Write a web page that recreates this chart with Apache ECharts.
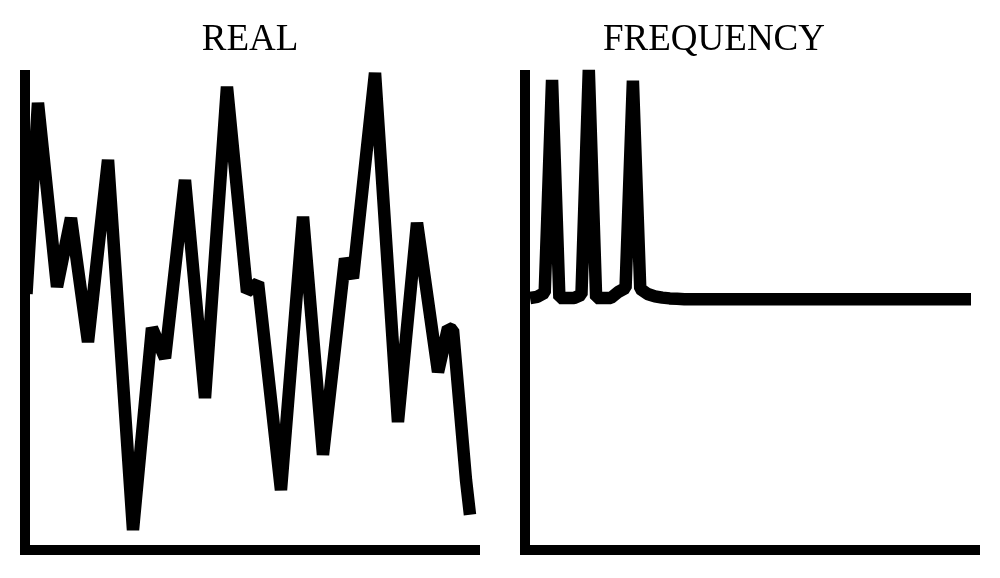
<!DOCTYPE html>
<html lang="en">
<head>
	<meta charset="UTF-8">
	<title>REAL / FREQUENCY</title>
	<style>
		html, body { margin: 0; padding: 0; background: #fff; }
		#chart { width: 1000px; height: 578px; }
	</style>
</head>
<body>
	<div id="chart"></div>
<script src="https://cdn.jsdelivr.net/npm/echarts@6/dist/echarts.min.js"></script>
<script>
	// signal in time (sample position, amplitude)
	var realT = [0.2, 1.73, 4.27, 6.13, 8.4, 11.07, 14.4, 16.93, 18.67, 21.33, 24.0, 26.93, 29.6, 31.07,
		34.13, 37.07, 39.73, 42.67, 43.73, 46.67, 49.73, 52.27, 55.07, 56.4, 57.07, 58.8, 59.33];
	var realA = [6.4, 11.18, 6.58, 8.3, 5.2, 9.75, 0.5, 5.55, 4.8, 9.25, 3.8, 11.58, 6.45, 6.68,
		1.5, 8.33, 2.38, 7.28, 6.8, 11.93, 3.2, 8.18, 4.45, 5.55, 5.5, 1.75, 0.88];

	// spectrum magnitude, one value per bin
	var freqMag = [6.3, 6.33, 6.43, 11.75, 6.3, 6.3, 6.3, 6.38, 12.0, 6.3,
		6.3, 6.3, 6.45, 6.55, 11.73, 6.53, 6.4, 6.34, 6.31, 6.29,
		6.28, 6.27, 6.27, 6.27, 6.27, 6.27, 6.27, 6.27, 6.27, 6.27,
		6.27, 6.27, 6.27, 6.27, 6.27, 6.27, 6.27, 6.27, 6.27, 6.27,
		6.27, 6.27, 6.27, 6.27, 6.27, 6.27, 6.27, 6.27, 6.27, 6.27,
		6.27, 6.27, 6.27, 6.27, 6.27, 6.27, 6.27, 6.27, 6.27, 6.27, 6.27];

	var titles = ['REAL', 'FREQUENCY'];

	var realData = [];
	for (var i = 0; i < realT.length; i++) realData.push([realT[i], realA[i]]);
	var freqData = [];
	for (var j = 0; j < freqMag.length; j++) freqData.push([j, freqMag[j]]);

	function xAx(idx, min, max) {
		return {
			type: 'value', gridIndex: idx, min: min, max: max,
			axisLine: { show: true, onZero: false, lineStyle: { color: '#000', width: 10, cap: 'square' } },
			axisTick: { show: false }, axisLabel: { show: false }, splitLine: { show: false }
		};
	}
	function yAx(idx) {
		return {
			type: 'value', gridIndex: idx, min: 0, max: 12,
			axisLine: { show: true, onZero: false, lineStyle: { color: '#000', width: 10, cap: 'butt' } },
			axisTick: { show: false }, axisLabel: { show: false }, splitLine: { show: false }
		};
	}
	function lineS(idx, data) {
		return {
			type: 'line', xAxisIndex: idx, yAxisIndex: idx, data: data,
			symbol: 'none', smooth: false, silent: true,
			lineStyle: { color: '#000', width: 12.5, join: 'bevel', cap: 'butt' }
		};
	}
	var titleStyle = { fontFamily: 'Liberation Serif', fontSize: 37, fontWeight: 'normal', color: '#000' };

	var myChart = echarts.init(document.getElementById('chart'));
	var option = {
		animation: false,
		backgroundColor: '#fff',
		title: [
			{ text: titles[0], left: 245, top: 17, textAlign: 'center', textStyle: titleStyle },
			{ text: titles[1], left: 709, top: 17, textAlign: 'center', textStyle: titleStyle }
		],
		grid: [
			{ left: 25, top: 70, width: 450, height: 480 },
			{ left: 525, top: 70, width: 450, height: 480 }
		],
		xAxis: [xAx(0, 0, 60), xAx(1, -0.68, 60.54)],
		yAxis: [yAx(0), yAx(1)],
		series: [lineS(0, realData), lineS(1, freqData)]
	};
	myChart.setOption(option);
</script>
</body>
</html>
